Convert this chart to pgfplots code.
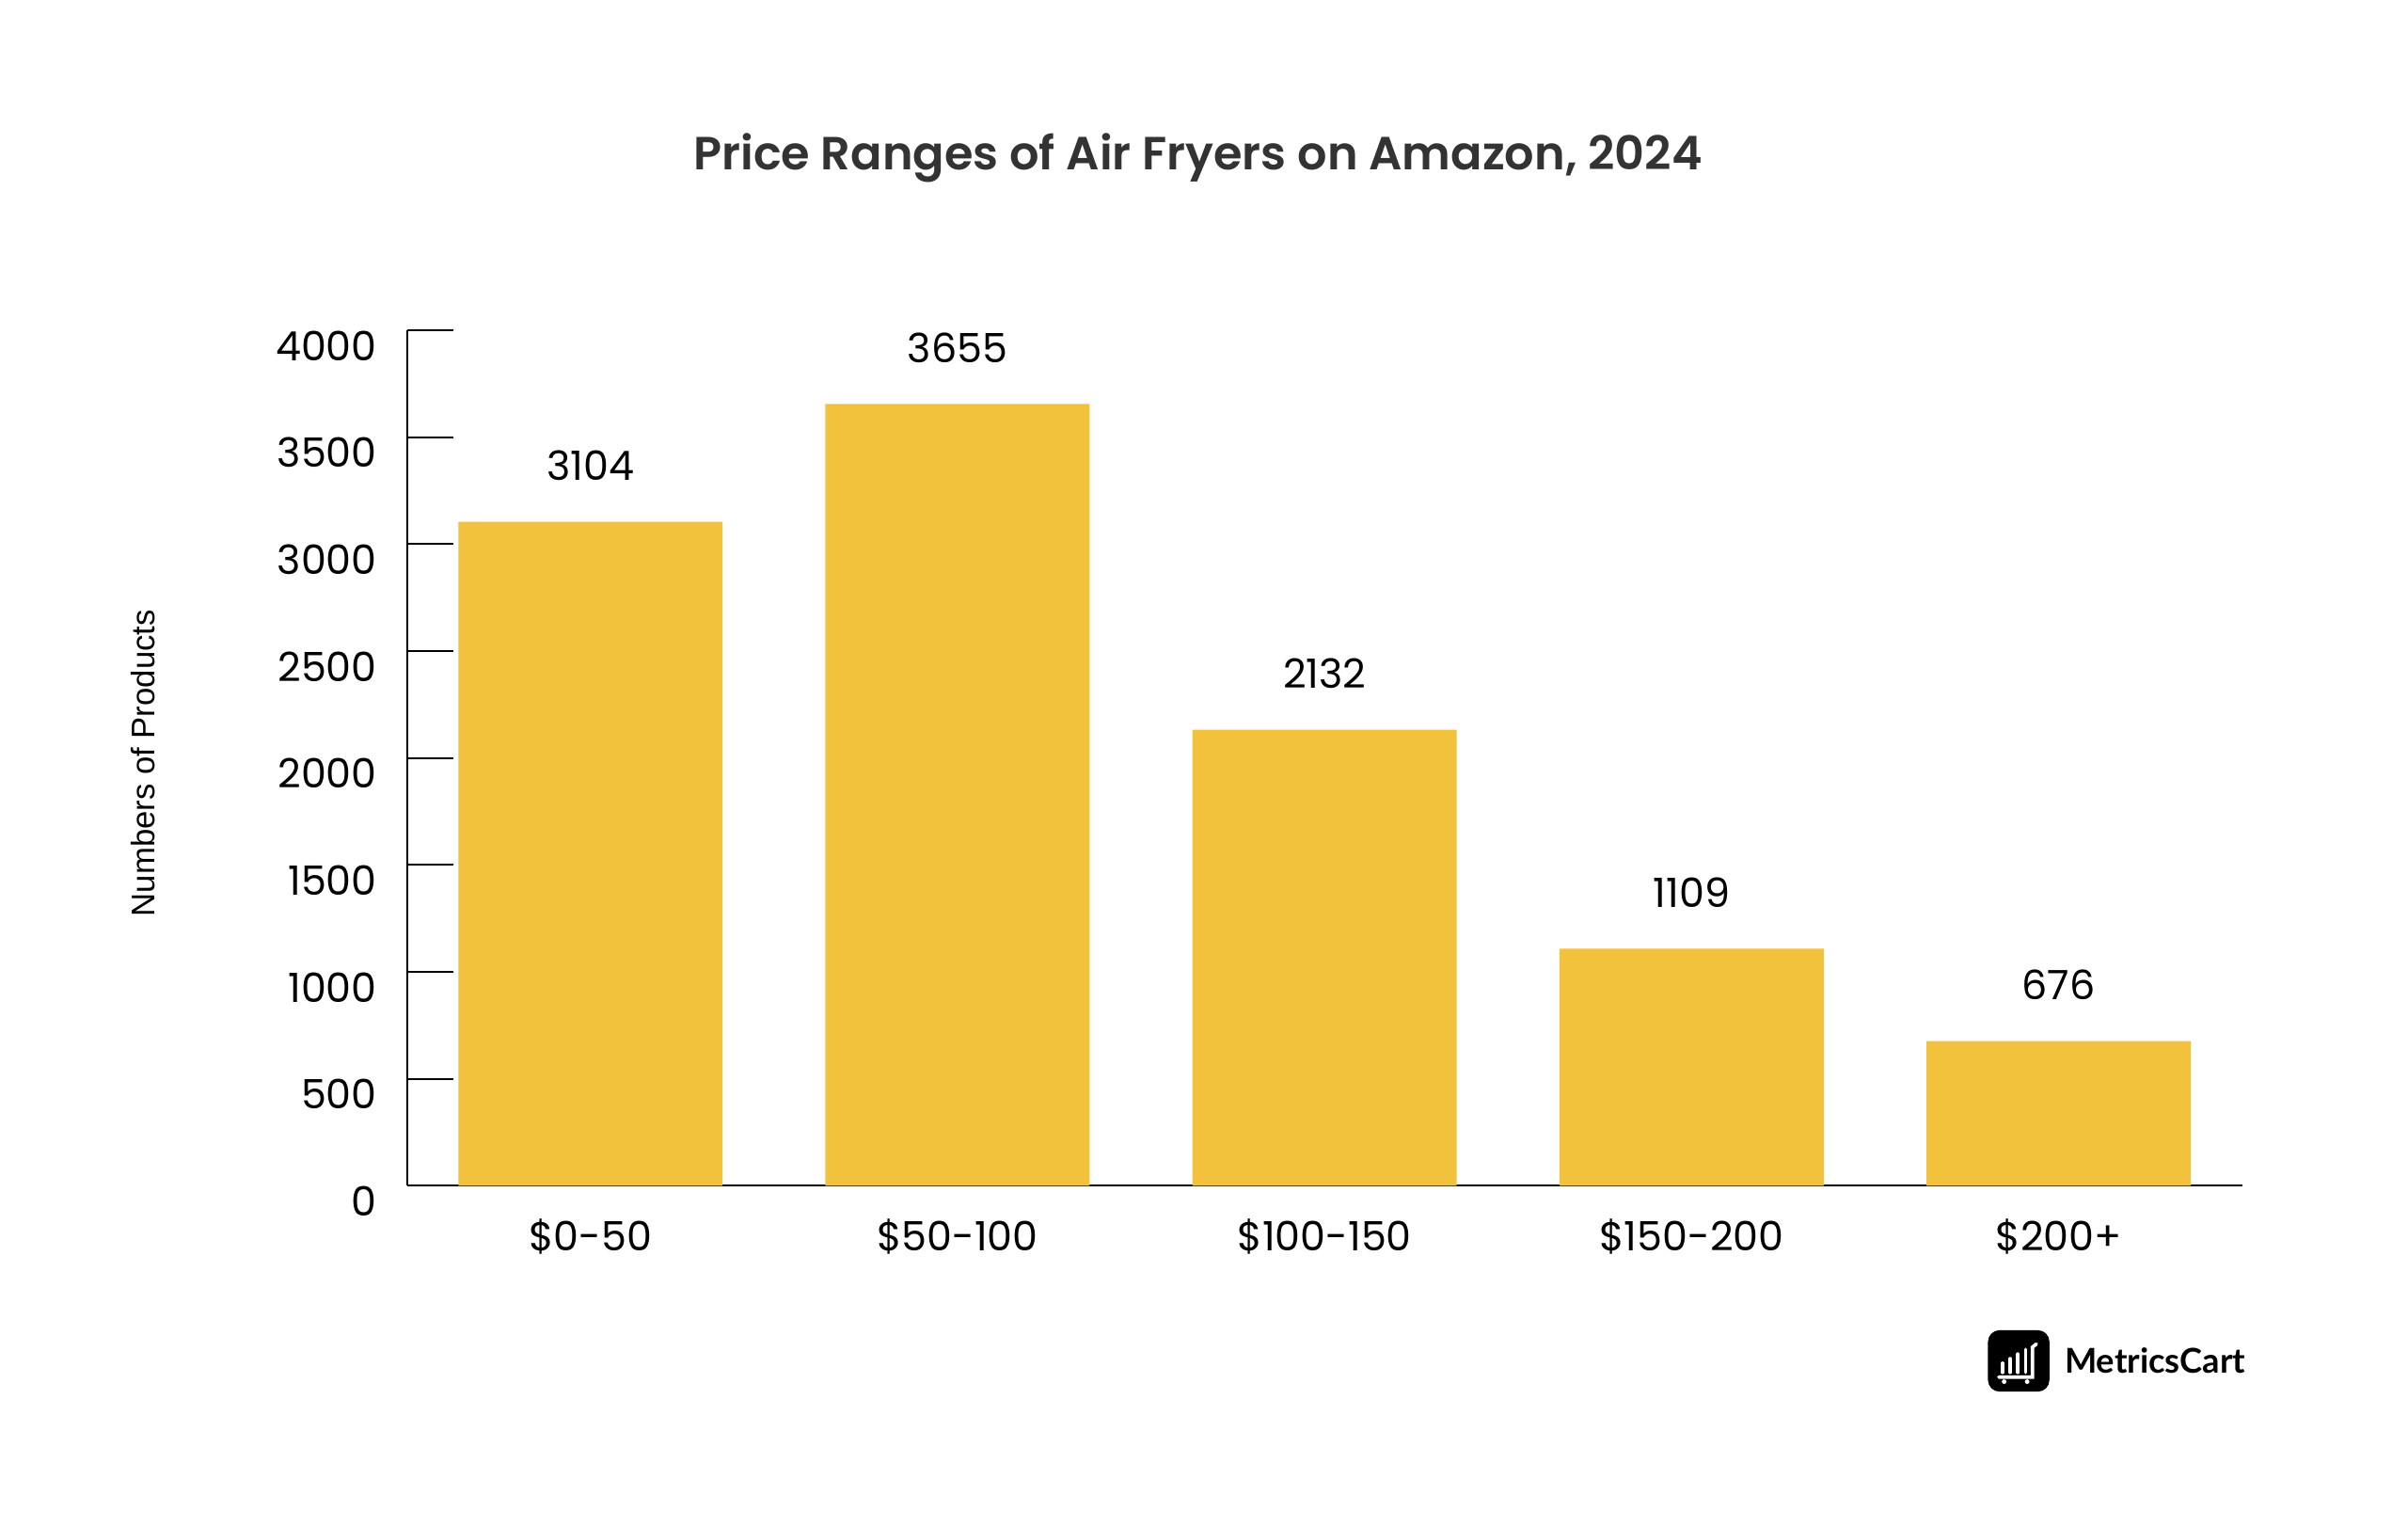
\documentclass[border=0pt]{standalone}
\usepackage{pgfplots}
\pgfplotsset{compat=1.18}
\usepackage{fontspec}
\setmainfont{Poppins}
\newfontfamily\titlefont{Poppins SemiBold}
\newfontfamily\arialfont{Liberation Sans}
\newfontfamily\logofont{Lato}
\definecolor{barcol}{HTML}{F2C23C}
\definecolor{titlecol}{HTML}{333333}

\begin{document}
\begin{tikzpicture}
  \path[use as bounding box, fill=white] (0,0) rectangle (627.2pt,397.2pt);
  % title
  \node[font=\titlefont\fontsize{12.1}{15}\selectfont, text=titlecol]
    at (312pt,356pt) {Price Ranges of Air Fryers on Amazon, 2024};

  \begin{axis}[
      at={(106pt,88.4pt)}, anchor=south west,
      scale only axis, width=478pt, height=222.8pt,
      xmin=-0.5, xmax=4.5, ymin=0, ymax=4000,
      axis x line*=bottom, axis y line*=left,
      axis line style={black, line width=0.5pt},
      ybar, bar width=0.72,
      xtick={0,1,2,3,4},
      xticklabels={\$0-50, \$50-100, \$100-150, \$150-200, \$200+},
      major x tick style={draw=none},
      ytick={0,500,...,4000},
      tick align=inside,
      major tick length=12pt,
      major y tick style={black, line width=0.5pt},
      /pgf/number format/assume math mode=true,
      /pgf/number format/1000 sep={},
      yticklabel style={font=\fontsize{10.5}{12}\selectfont, inner sep=0pt,
        anchor=east, xshift=-7.6pt, yshift=-4pt},
      xticklabel style={font=\fontsize{10.5}{12}\selectfont, inner sep=0pt,
        anchor=base, yshift=-17pt},
      ylabel={Numbers of Products},
      ylabel style={font=\arialfont\fontsize{8.5}{10}\selectfont,
        at={(axis description cs:-0.144,0.494)}, anchor=center},
      nodes near coords,
      every node near coord/.append style={font=\fontsize{10.5}{12}\selectfont,
        text=black, inner sep=0pt, yshift=10.6pt},
      clip=false,
    ]
    \addplot[fill=barcol, draw=none] coordinates {
      (0,3104) (1,3655) (2,2132) (3,1109) (4,676)
    };
  \end{axis}

  % logo
  \fill[black, rounded corners=3pt] (517.8pt,34.8pt) rectangle (533.8pt,50.8pt);
  \begin{scope}[white, line width=0.9pt, line cap=round]
    \draw (521.6pt,39.8pt) -- (521.6pt,42.2pt);
    \draw (523.6pt,39.8pt) -- (523.6pt,43.4pt);
    \draw (525.6pt,39.8pt) -- (525.6pt,44.6pt);
    \draw (527.6pt,39.8pt) -- (527.6pt,45.8pt);
    \draw (520.6pt,38.6pt) -- (529.4pt,38.6pt) -- (529.4pt,46.4pt) -- (530.4pt,47.2pt);
  \end{scope}
  \fill[white] (522pt,37.4pt) circle (0.6pt) (528pt,37.4pt) circle (0.6pt);
  \node[anchor=west, inner sep=0pt, font=\logofont\bfseries\fontsize{8.9}{10}\selectfont]
    at (537.6pt,42.8pt) {MetricsCart};
\end{tikzpicture}
\end{document}
